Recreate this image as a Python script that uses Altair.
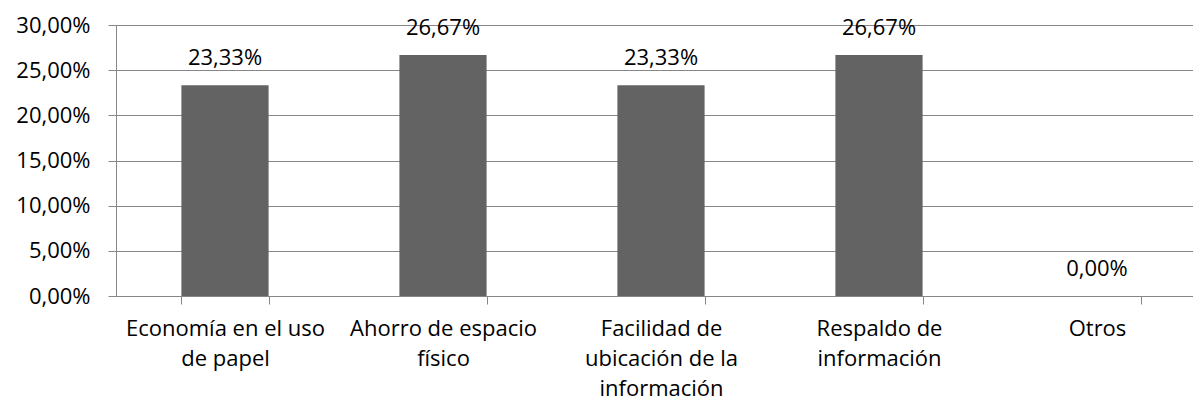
import altair as alt
import pandas as pd

# Categories ("|" marks a line break in the axis label)
categorias = [
    "Economía en el uso|de papel",
    "Ahorro de espacio|físico",
    "Facilidad de|ubicación de la|información",
    "Respaldo de|información",
    "Otros",
]
# Share of responses per category
porcentajes = [0.2333, 0.2667, 0.2333, 0.2667, 0.0]
# Y axis tick values
ticks_y = [0.0, 0.05, 0.10, 0.15, 0.20, 0.25, 0.30]

df = pd.DataFrame({"categoria": categorias, "valor": porcentajes})

FONT = "Open Sans"
GRIS = "#878787"
pct_coma = "replace(format({v}, '.2%'), '.', ',')"

x = alt.X(
    "categoria:N",
    sort=categorias,
    title=None,
    scale=alt.Scale(paddingInner=0.6, paddingOuter=0.3, range=[0, 1090]),
    axis=alt.Axis(
        labelAngle=0,
        labelExpr="split(datum.label, '|')",
        labelFont=FONT,
        labelFontSize=22,
        labelColor="#000000",
        labelLineHeight=30,
        labelBaseline="top",
        labelPadding=14,
        labelOverlap=False,
        labelBound=False,
        labelLimit=0,
        tickBand="extent",
        tickSize=8,
        tickColor=GRIS,
        domainColor=GRIS,
        grid=False,
    ),
)

y = alt.Y(
    "valor:Q",
    title=None,
    scale=alt.Scale(domain=[0, 0.30], nice=False),
    axis=alt.Axis(
        values=ticks_y,
        labelExpr=pct_coma.format(v="datum.value"),
        labelFont=FONT,
        labelFontSize=22,
        labelColor="#000000",
        labelPadding=18,
        tickSize=8,
        tickColor=GRIS,
        domainColor=GRIS,
        gridColor=GRIS,
        gridOpacity=1,
    ),
)

barras = alt.Chart(df).mark_bar(color="#636363").encode(x=x, y=y)

etiquetas = (
    alt.Chart(df)
    .transform_calculate(texto=pct_coma.format(v="datum.valor"))
    .mark_text(font=FONT, fontSize=22, color="#000000", baseline="alphabetic", dy=-20)
    .encode(x=alt.X("categoria:N", sort=categorias), y="valor:Q", text="texto:N")
)

chart = (
    alt.layer(barras, etiquetas)
    .properties(
        width=1077,
        height=271,
        autosize=alt.AutoSizeParams(type="none"),
        padding={"left": 116, "top": 25, "right": 0, "bottom": 109},
        background="#ffffff",
    )
    .configure_view(stroke=None)
)

chart.save("out.html", embed_options={"renderer": "svg", "actions": False})
